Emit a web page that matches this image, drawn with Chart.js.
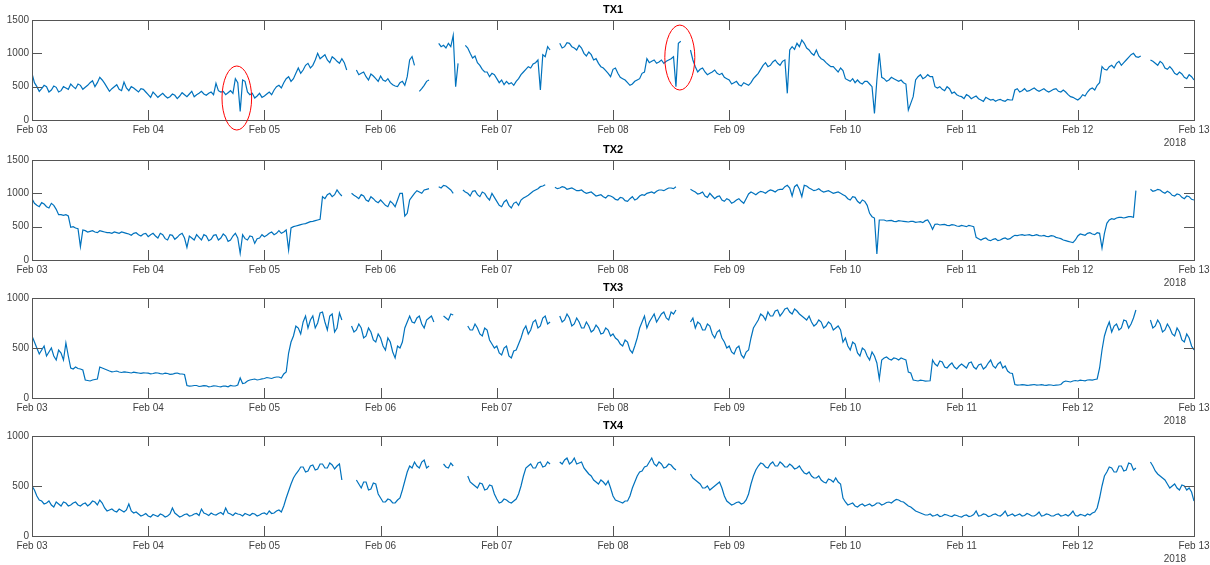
<!DOCTYPE html>
<html>
<head>
<meta charset="utf-8">
<title>TX1 - TX4</title>
<script src="https://cdn.jsdelivr.net/npm/chart.js@4.4.1/dist/chart.umd.min.js"></script>
<style>
  html, body { margin: 0; padding: 0; background: #fff; }
  #wrap { position: relative; width: 1210px; height: 565px; overflow: hidden; }
  #wrap canvas { position: absolute; left: 0; }
</style>
</head>
<body>
<div id="wrap">
  <canvas id="tx1" width="1210" height="150" style="top:0px"></canvas>
  <canvas id="tx2" width="1210" height="150" style="top:140px"></canvas>
  <canvas id="tx3" width="1210" height="150" style="top:278px"></canvas>
  <canvas id="tx4" width="1210" height="150" style="top:416px"></canvas>
</div>
<script>
// x axis: hours since Feb 03 00:00. TXn = reading on the hour, TXn_half = reading at half past.
// null = no data
const dayLabels = ["Feb 03", "Feb 04", "Feb 05", "Feb 06", "Feb 07", "Feb 08",
                   "Feb 09", "Feb 10", "Feb 11", "Feb 12", "Feb 13"];
const yearLabel = "2018";
const yTicks1500 = [0, 500, 1000, 1500];
const yTicks1000 = [0, 500, 1000];

const TX1 = [
  700,500,470,500,450,490,440,480,540,470,520,490,560,500,640,550,430,500,460,570,440,480,420,460,
  380,420,340,400,330,390,320,410,350,430,380,430,370,420,550,420,380,440,620,130,580,380,330,400,
  360,420,450,520,560,650,620,780,750,850,820,1000,950,900,950,880,920,750,null,750,700,650,690,620,
  660,580,560,510,560,520,900,820,430,520,600,null,1150,1120,1150,1270,850,null,1080,930,860,760,720,700,
  620,600,580,560,580,680,760,780,860,450,950,1050,null,1150,1100,1150,1080,1120,1000,1020,900,850,780,700,
  760,700,620,560,540,600,700,920,880,850,900,880,920,500,1180,null,1050,800,760,720,700,750,680,640,
  600,560,530,560,520,620,700,820,800,870,850,880,400,1100,1150,1200,1080,1000,1050,920,860,800,760,780,
  620,580,560,560,580,540,100,1000,620,600,620,580,560,150,350,650,620,680,650,480,460,500,400,380,
  350,380,320,360,300,340,300,280,310,280,300,450,420,470,440,480,430,470,420,460,430,450,380,340,
  300,380,420,480,520,800,750,820,850,820,900,980,950,960,null,900,850,880,780,800,700,720,640,680,600
];
const TX1_half = [
  560,430,520,420,510,420,500,460,500,540,460,520,590,560,600,490,470,530,440,480,500,450,470,420,
  340,380,370,360,350,370,360,380,390,350,400,390,400,380,440,430,410,400,560,600,420,400,360,340,
  390,380,500,480,620,580,700,700,820,780,900,920,980,860,920,850,860,null,null,680,720,600,660,580,
  600,620,530,500,580,650,950,null,470,580,null,null,1100,1080,1100,500,null,1120,1000,960,820,720,650,680,
  560,530,540,520,620,720,800,840,900,980,1100,null,null,1080,1160,1100,1050,1080,960,980,920,800,740,650,
  780,640,600,520,580,620,720,860,900,870,850,900,950,1150,null,null,900,720,780,680,720,700,700,620,
  540,580,510,540,560,660,760,860,820,900,820,900,1050,1060,1100,1150,1050,970,960,900,830,800,720,740,
  600,620,600,540,580,500,600,640,580,640,600,600,540,250,600,680,640,650,500,500,440,470,420,360,
  320,360,340,320,280,320,310,300,290,310,300,470,440,430,460,450,450,440,440,470,420,420,350,320,
  330,360,460,450,560,760,800,780,880,860,940,1000,940,null,null,880,820,850,760,760,680,690,620,650
];

const TX2 = [
  920,820,860,800,850,760,680,680,490,480,200,440,430,420,440,420,410,420,400,410,390,400,380,390,
  350,400,330,380,300,370,340,400,190,330,380,300,360,310,380,330,360,300,400,100,320,360,250,330,
  350,400,380,440,420,150,500,520,540,560,580,600,950,980,950,1050,960,null,1000,950,980,900,950,880,
  900,820,880,800,1000,660,900,1000,1020,1050,1070,null,1100,1120,1080,1000,null,1050,1000,1030,980,1020,940,1000,
  880,800,900,780,870,900,950,1000,1050,1100,1130,null,1090,1080,1090,1070,1060,1040,1020,1010,990,970,950,970,
  940,900,930,880,950,920,980,1000,1020,1030,1050,1060,1080,1100,null,null,1060,1020,1000,960,1000,920,960,880,
  900,870,920,850,990,1000,1010,1020,1030,1040,1050,1060,1120,960,1130,950,1110,1060,1050,1040,1030,1020,1010,1000,
  960,900,940,850,880,700,630,600,600,590,580,590,580,570,580,570,560,600,460,540,530,520,530,510,
  520,500,510,340,300,330,290,320,300,330,320,370,375,370,380,370,365,370,350,360,330,300,280,260,
  360,380,400,390,410,180,550,620,630,640,640,650,1040,null,null,1060,1040,1050,1000,1010,960,980,920,950,900
];
const TX2_half = [
  850,800,840,780,820,680,670,660,500,470,450,420,440,410,430,410,400,410,420,400,370,410,360,400,
  380,360,400,320,380,310,380,330,360,300,340,380,290,370,300,390,280,360,330,380,300,350,320,380,
  370,420,400,400,450,480,510,530,545,575,590,610,920,1000,980,1000,null,null,970,920,960,880,920,860,
  860,800,850,900,1000,700,950,1040,1000,1060,null,null,1080,1110,1050,null,null,1020,960,1040,950,1000,900,940,
  820,870,820,850,820,930,970,1030,1070,1110,null,null,1070,1100,1060,1080,1040,1050,1000,1020,960,980,930,960,
  910,940,890,920,900,960,970,1010,1000,1050,1040,1080,1070,null,null,null,1040,990,1020,940,960,950,900,920,
  850,900,880,920,1020,980,1030,1000,1050,1020,1060,1100,1080,1100,1060,1120,1080,1040,1070,1020,1040,1000,1020,980,
  920,950,880,900,820,650,90,600,585,595,575,585,575,580,565,575,590,540,535,525,535,515,525,505,
  510,520,500,320,320,300,310,290,320,310,350,365,380,375,365,380,360,355,365,340,320,290,270,300,
  390,370,410,380,400,400,600,610,640,630,650,640,null,null,null,1030,1060,1020,1030,970,990,940,960,910
];

const TX3 = [
  620,500,480,420,500,380,450,550,300,310,290,180,170,185,310,290,270,265,260,262,255,258,250,252,
  248,245,250,240,245,238,250,240,125,120,125,118,122,115,120,112,118,125,120,200,150,180,190,185,
  195,200,205,210,240,450,620,700,760,700,820,750,860,680,840,700,780,null,720,680,700,620,660,560,
  600,480,560,400,500,700,820,750,820,700,800,760,null,820,780,830,null,null,720,680,700,620,680,540,
  520,430,520,400,480,600,720,680,780,720,820,760,null,820,780,800,740,760,700,720,680,700,650,680,
  640,580,520,560,450,600,760,700,800,760,840,800,860,880,null,null,760,700,740,680,720,600,680,560,
  520,440,520,400,480,700,780,820,860,820,880,850,900,840,870,820,780,760,740,760,720,740,700,680,
  600,480,540,420,480,380,420,190,400,390,400,380,390,260,180,170,175,170,380,320,360,300,350,290,
  340,300,360,290,340,310,380,300,360,320,250,135,130,132,128,135,130,128,132,125,130,160,165,170,
  170,175,180,178,190,480,700,660,740,700,770,740,880,null,null,780,720,740,680,700,620,660,560,600,480
];
const TX3_half = [
  560,440,520,460,420,480,380,420,290,295,280,175,180,190,300,280,262,270,255,258,250,254,246,250,
  242,252,244,248,236,246,242,235,118,125,115,124,112,122,115,120,112,120,130,145,170,185,180,192,
  205,195,210,200,260,560,720,640,820,780,700,850,760,820,660,850,null,null,660,740,600,700,580,640,
  520,600,460,520,560,760,760,800,740,780,820,null,null,800,840,null,null,null,680,740,640,700,580,500,
  450,500,420,470,540,680,640,760,700,800,740,null,null,760,840,720,800,700,760,660,730,640,700,620,
  600,540,580,480,520,700,820,760,840,800,860,780,840,null,null,null,800,760,680,740,640,660,600,500,
  460,500,430,460,600,740,840,780,820,870,820,890,860,890,840,800,820,720,780,700,760,680,720,560,
  520,560,450,500,420,460,350,380,410,380,395,400,380,250,175,178,168,172,340,370,310,330,310,320,
  320,350,310,330,290,350,320,340,300,270,245,128,134,126,132,128,133,126,130,128,135,170,160,175,
  178,172,182,185,300,620,760,720,680,780,700,800,null,null,null,700,780,660,740,640,700,580,640,520
];

const TX4 = [
  500,400,350,330,310,340,300,330,310,340,300,330,320,340,360,280,260,250,270,240,320,230,220,210,
  200,215,195,210,200,280,210,200,220,205,225,270,220,230,210,235,280,220,230,215,225,205,220,210,
  230,250,230,260,300,450,580,650,690,650,710,670,720,680,710,700,560,null,null,560,480,540,470,520,
  380,340,360,330,380,550,700,740,680,760,700,null,null,720,680,700,null,null,600,520,480,520,470,500,
  370,340,360,330,370,500,680,720,680,740,700,720,null,740,760,720,780,730,680,620,560,520,540,550,
  400,350,330,350,480,600,650,700,780,700,720,690,710,660,null,null,620,560,520,480,460,500,540,400,
  330,320,340,330,420,600,700,720,680,740,700,720,690,700,680,660,620,600,580,560,530,560,580,520,
  340,320,300,310,300,320,310,330,320,340,350,360,340,300,270,240,220,210,200,215,200,210,195,205,
  190,210,200,250,205,215,200,220,200,250,210,200,220,205,215,200,240,205,215,200,220,205,200,250,
  200,210,220,230,280,500,640,680,640,700,660,720,680,null,null,740,650,600,560,480,520,460,500,480,350
];
const TX4_half = [
  460,360,320,350,290,320,340,300,330,310,320,300,350,310,330,250,270,240,255,260,250,240,200,225,
  190,205,220,190,220,230,190,215,200,220,205,230,205,215,225,215,230,205,220,200,215,225,200,225,
  215,225,250,240,380,520,620,690,640,700,660,720,680,730,670,720,null,null,null,520,540,460,530,420,
  340,370,330,360,460,640,680,700,740,680,null,null,null,690,730,null,null,null,540,500,530,460,510,420,
  330,370,340,350,420,600,700,680,730,690,740,null,null,720,780,740,720,740,650,600,540,560,510,480,
  360,340,350,400,540,640,690,740,720,740,680,720,680,null,null,null,580,540,480,500,480,520,480,350,
  310,335,320,360,520,660,730,690,720,700,740,690,720,670,700,630,640,580,600,540,570,540,540,380,
  310,330,290,320,310,300,330,310,335,330,365,345,320,290,250,230,210,220,205,195,215,200,210,195,
  205,195,215,200,220,195,215,205,220,200,220,210,200,225,200,215,200,220,200,215,200,215,220,205,
  215,200,210,240,380,600,690,640,700,650,730,660,null,null,null,700,620,580,520,500,480,510,460,440
];

// red ellipses drawn on TX1, in data units (hour, value, half-width in hours, half-height in values)
const circledTX1 = [
  { x: 42.3, y: 330, rx: 3.06, ry: 480 },
  { x: 133.8, y: 937, rx: 3.1, ry: 487 }
];

const FONT = "'Liberation Sans', Arial, Helvetica, sans-serif";
const AXIS_COLOR = "#555555";
const TEXT_COLOR = "#404040";

// MATLAB-like box with inward ticks on all four sides, plus the year label
const matlabAxes = {
    id: "matlabAxes",
    afterDraw(chart, args, opts) {
        const { ctx, chartArea: a, scales: { x, y } } = chart;
        ctx.save();
        ctx.strokeStyle = AXIS_COLOR;
        ctx.lineWidth = 1;
        ctx.beginPath();
        x.ticks.forEach(t => {
            const px = Math.round(x.getPixelForValue(t.value)) + 0.5;
            ctx.moveTo(px, a.bottom); ctx.lineTo(px, a.bottom - 10);
            ctx.moveTo(px, a.top); ctx.lineTo(px, a.top + 10);
        });
        y.ticks.forEach(t => {
            const py = Math.round(y.getPixelForValue(t.value)) + 0.5;
            ctx.moveTo(a.left, py); ctx.lineTo(a.left + 10, py);
            ctx.moveTo(a.right, py); ctx.lineTo(a.right - 10, py);
        });
        ctx.stroke();
        ctx.strokeRect(Math.round(a.left) + 0.5, Math.round(a.top) + 0.5,
                       Math.round(a.width), Math.round(a.height));

        ctx.fillStyle = TEXT_COLOR;
        ctx.font = "10px " + FONT;
        ctx.textAlign = "right";
        ctx.textBaseline = "middle";
        ctx.fillText(opts.year, a.right - 8, a.bottom + 23);

        (opts.marks || []).forEach(m => {
            const cx = x.getPixelForValue(m.x);
            const cy = y.getPixelForValue(m.y);
            const rx = Math.abs(x.getPixelForValue(m.x + m.rx) - cx);
            const ry = Math.abs(y.getPixelForValue(m.y + m.ry) - cy);
            ctx.beginPath();
            ctx.strokeStyle = "#ff0000";
            ctx.ellipse(cx, cy, rx, ry, 0, 0, Math.PI * 2);
            ctx.stroke();
        });
        ctx.restore();
    }
};

function makePanel(canvasId, title, values, halfValues, yTicks, marks) {
    const points = [];
    values.forEach((v, i) => {
        points.push({ x: i, y: v });
        if (i < halfValues.length) points.push({ x: i + 0.5, y: halfValues[i] });
    });

    return new Chart(document.getElementById(canvasId), {
        type: "line",
        data: {
            datasets: [{
                data: points,
                borderColor: "#0072BD",
                borderWidth: 1.2,
                pointRadius: 0,
                spanGaps: false,
                tension: 0
            }]
        },
        options: {
            responsive: false,
            animation: false,
            devicePixelRatio: 1,
            layout: { padding: { left: 0, right: 16, top: 0, bottom: 0 } },
            plugins: {
                legend: { display: false },
                tooltip: { enabled: false },
                title: {
                    display: true,
                    text: title,
                    fullSize: false,
                    color: "#000",
                    font: { family: FONT, size: 11, weight: "bold", lineHeight: 1 },
                    padding: { top: 4, bottom: 5 }
                },
                matlabAxes: { marks: marks, year: yearLabel }
            },
            scales: {
                x: {
                    type: "linear",
                    min: 0,
                    max: (dayLabels.length - 1) * 24,
                    afterBuildTicks: s => { s.ticks = dayLabels.map((_, i) => ({ value: i * 24 })); },
                    afterFit: s => { s.height = 30; s.paddingLeft = 0; s.paddingRight = 0; },
                    grid: { display: false, drawTicks: false },
                    border: { display: false },
                    ticks: {
                        autoSkip: false,
                        maxRotation: 0,
                        padding: 4,
                        color: TEXT_COLOR,
                        font: { family: FONT, size: 10 },
                        callback: v => dayLabels[Math.round(v / 24)]
                    }
                },
                y: {
                    min: 0,
                    max: yTicks[yTicks.length - 1],
                    afterBuildTicks: s => { s.ticks = yTicks.map(v => ({ value: v })); },
                    afterFit: s => { s.width = 32; },
                    grid: { display: false, drawTicks: false },
                    border: { display: false },
                    ticks: {
                        padding: 3,
                        color: TEXT_COLOR,
                        font: { family: FONT, size: 10 },
                        callback: v => String(v)
                    }
                }
            }
        },
        plugins: [matlabAxes]
    });
}

makePanel("tx1", "TX1", TX1, TX1_half, yTicks1500, circledTX1);
makePanel("tx2", "TX2", TX2, TX2_half, yTicks1500, []);
makePanel("tx3", "TX3", TX3, TX3_half, yTicks1000, []);
makePanel("tx4", "TX4", TX4, TX4_half, yTicks1000, []);
</script>
</body>
</html>
